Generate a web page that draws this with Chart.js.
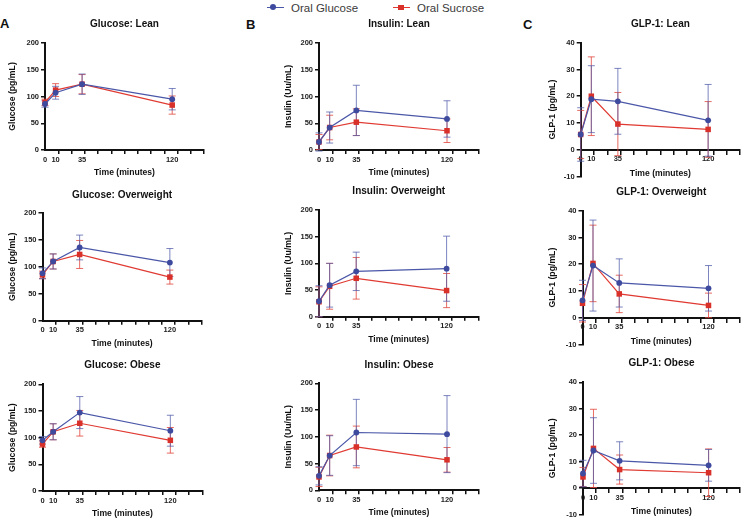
<!DOCTYPE html>
<html><head><meta charset="utf-8">
<script src="https://cdn.jsdelivr.net/npm/chart.js@4"></script>
<style>
html,body{margin:0;padding:0;background:#fff;}
#wrap{position:relative;width:744px;height:521px;overflow:hidden;font-family:"Liberation Sans",Arial,sans-serif;}
canvas{position:absolute;}
.lt{position:absolute;font-weight:bold;font-size:13px;color:#111;line-height:13px;}
.lg{position:absolute;font-size:11.5px;color:#3a3a3a;line-height:14px;white-space:nowrap;}
.ln{position:absolute;height:1.5px;}
</style></head>
<body><div id="wrap">
<div class="lt" style="left:0px;top:17px">A</div>
<div class="lt" style="left:246px;top:18px">B</div>
<div class="lt" style="left:523px;top:18px">C</div>
<div class="ln" style="left:267px;top:6.5px;width:16.5px;background:#4a57a8"></div>
<div style="position:absolute;left:270.3px;top:4.3px;width:6px;height:6px;border-radius:50%;background:#3d4a9e"></div>
<div class="lg" style="left:291px;top:0.5px">Oral Glucose</div>
<div class="ln" style="left:393px;top:6.5px;width:17px;background:#e03a32"></div>
<div style="position:absolute;left:398.2px;top:4.5px;width:5.6px;height:5.6px;background:#d9302a"></div>
<div class="lg" style="left:417px;top:0.5px">Oral Sucrose</div>
</div>
<script>
// ---- data ----
const times = [0, 10, 35, 120];
const xTickValues = [0, 10, 12.5, 25, 35, 37.5, 50, 62.5, 75, 87.5, 100, 112.5, 120, 125, 137.5, 150];
const xLabelValues = [0, 10, 35, 120];
const seriesNames = ['Oral Glucose', 'Oral Sucrose'];

const glucoseLeanOG = [86, 107, 123, 95];
const glucoseLeanOGsd = [6, 12, 19, 20];
const glucoseLeanOS = [89, 112, 123, 84];
const glucoseLeanOSsd = [6, 12, 18, 17];
const glucoseOverOG = [88, 110, 136, 108];
const glucoseOverOGsd = [10, 14, 23, 26];
const glucoseOverOS = [85, 110, 123, 81];
const glucoseOverOSsd = [7, 14, 26, 13];
const glucoseObeseOG = [95, 111, 147, 113];
const glucoseObeseOGsd = [7, 15, 30, 29];
const glucoseObeseOS = [88, 111, 127, 95];
const glucoseObeseOSsd = [6, 15, 24, 24];

const insulinLeanOG = [15, 42, 74, 58];
const insulinLeanOGsd = [17, 29, 47, 34];
const insulinLeanOS = [15, 42, 52, 36];
const insulinLeanOSsd = [14, 23, 25, 22];
const insulinOverOG = [29, 59, 85, 90];
const insulinOverOGsd = [29, 41, 36, 61];
const insulinOverOS = [28, 57, 72, 49];
const insulinOverOSsd = [28, 43, 39, 32];
const insulinObeseOG = [27, 65, 108, 105];
const insulinObeseOGsd = [17, 37, 62, 72];
const insulinObeseOS = [25, 65, 81, 57];
const insulinObeseOSsd = [18, 38, 39, 23];

const glpLeanOG = [5.7, 18.9, 18.1, 11];
const glpLeanOGsd = [10, 12.5, 12.3, 13.4];
const glpLeanOS = [5.7, 20, 9.6, 7.6];
const glpLeanOSsd = [9, 14.7, 11.8, 10.4];
const glpOverOG = [6.5, 19.5, 13, 11];
const glpOverOGsd = [7.5, 17, 9, 8.5];
const glpOverOS = [5.4, 20.3, 8.9, 4.6];
const glpOverOSsd = [7, 14.3, 7, 4.6];
const glpObeseOG = [5.5, 14.2, 10.3, 8.6];
const glpObeseOGsd = [5, 12.4, 7.2, 6];
const glpObeseOS = [4.2, 15, 7, 5.8];
const glpObeseOSsd = [3.6, 14.8, 5.5, 9];

const glucoseTicks = {min: 0, max: 200, step: 50};
const insulinTicks = {min: 0, max: 200, step: 50};
const glpTicks = {min: -10, max: 40, step: 10};

const panelTitles = ['Glucose: Lean','Glucose: Overweight','Glucose: Obese',
  'Insulin: Lean','Insulin: Overweight','Insulin: Obese',
  'GLP-1: Lean','GLP-1: Overweight','GLP-1: Obese'];
const yTitles = ['Glucose (pg/mL)','Insulin (Uu/mL)','GLP-1 (pg/mL)'];
const xTitle = 'Time (minutes)';

// ---- layout (page coords) ----
const FONT = '"Liberation Sans", Arial, sans-serif';
const panels = [
  {t:0, yt:0, ticks:glucoseTicks, og:glucoseLeanOG, ogsd:glucoseLeanOGsd, os:glucoseLeanOS, ossd:glucoseLeanOSsd,
   cx:0, cy:0, cw:244, ch:180, L:45, T:43, R:204, B:150, ty:24},
  {t:1, yt:0, ticks:glucoseTicks, og:glucoseOverOG, ogsd:glucoseOverOGsd, os:glucoseOverOS, ossd:glucoseOverOSsd,
   cx:0, cy:175, cw:244, ch:176, L:42.5, T:213, R:201.7, B:320.7, ty:195},
  {t:2, yt:0, ticks:glucoseTicks, og:glucoseObeseOG, ogsd:glucoseObeseOGsd, os:glucoseObeseOS, ossd:glucoseObeseOSsd,
   cx:0, cy:345, cw:244, ch:176, L:42.5, T:384.3, R:202.3, B:491, ty:365.7},
  {t:3, yt:1, ticks:insulinTicks, og:insulinLeanOG, ogsd:insulinLeanOGsd, os:insulinLeanOS, ossd:insulinLeanOSsd,
   cx:276, cy:0, cw:214, ch:180, L:319, T:43, R:479, B:150, ty:24},
  {t:4, yt:1, ticks:insulinTicks, og:insulinOverOG, ogsd:insulinOverOGsd, os:insulinOverOS, ossd:insulinOverOSsd,
   cx:276, cy:175, cw:214, ch:176, L:319, T:210, R:478.5, B:316.7, ty:191.7},
  {t:5, yt:1, ticks:insulinTicks, og:insulinObeseOG, ogsd:insulinObeseOGsd, os:insulinObeseOS, ossd:insulinObeseOSsd,
   cx:276, cy:345, cw:214, ch:176, L:319, T:383.3, R:479, B:490.3, ty:365},
  {t:6, yt:2, ticks:glpTicks, og:glpLeanOG, ogsd:glpLeanOGsd, os:glpLeanOS, ossd:glpLeanOSsd, zeroAxis:true,
   cx:540, cy:0, cw:204, ch:183, L:580.7, T:42.7, R:743, B:150.7, ty:24},
  {t:7, yt:2, ticks:glpTicks, og:glpOverOG, ogsd:glpOverOGsd, os:glpOverOS, ossd:glpOverOSsd, zeroAxis:true,
   cx:540, cy:175, cw:204, ch:176, L:582.5, T:210.7, R:743, B:319, ty:192},
  {t:8, yt:2, ticks:glpTicks, og:glpObeseOG, ogsd:glpObeseOGsd, os:glpObeseOS, ossd:glpObeseOSsd, zeroAxis:true,
   cx:540, cy:345, cw:204, ch:176, L:583, T:382.3, R:743, B:489.3, ty:363.3}
];

const errorBars = {
  id: 'errorBars',
  beforeDatasetsDraw(chart) {
    const {ctx, scales: {x, y}} = chart;
    ctx.save();
    for (let i = chart.data.datasets.length - 1; i >= 0; i--) {
      const ds = chart.data.datasets[i];
      ctx.strokeStyle = ds.errColor;
      ctx.lineWidth = 1;
      ds.sd.forEach((s, j) => {
        const px = x.getPixelForValue(ds.data[j].x);
        const top = y.getPixelForValue(ds.data[j].y + s);
        const bot = y.getPixelForValue(ds.data[j].y - s);
        ctx.beginPath();
        ctx.moveTo(px, top); ctx.lineTo(px, bot);
        ctx.moveTo(px - 3.5, top); ctx.lineTo(px + 3.5, top);
        ctx.moveTo(px - 3.5, bot); ctx.lineTo(px + 3.5, bot);
        ctx.stroke();
      });
    }
    ctx.restore();
  }
};

const panelTitle = {
  id: 'panelTitle',
  afterDraw(chart, args, opts) {
    const {ctx, chartArea: ca} = chart;
    ctx.save();
    ctx.font = 'bold 10px ' + FONT;
    ctx.fillStyle = '#111';
    ctx.textAlign = 'center';
    ctx.textBaseline = 'middle';
    ctx.fillText(opts.text, (ca.left + ca.right) / 2, opts.y);
    ctx.restore();
  }
};

const wrap = document.getElementById('wrap');
panels.forEach(p => {
  const cv = document.createElement('canvas');
  cv.width = p.cw; cv.height = p.ch;
  cv.style.left = p.cx + 'px'; cv.style.top = p.cy + 'px';
  cv.style.width = p.cw + 'px'; cv.style.height = p.ch + 'px';
  wrap.appendChild(cv);
  const H = p.zeroAxis ? 31.5 : 30;
  const yW = p.L - p.cx;
  const pad = {left: 0, top: p.T - p.cy, right: p.cx + p.cw - p.R, bottom: p.cy + p.ch - p.B - H};
  const tickFont = {family: FONT, size: 7.5, weight: 'bold'};
  new Chart(cv, {
    type: 'line',
    data: {
      datasets: [
        {label: seriesNames[0], data: times.map((t, i) => ({x: t, y: p.og[i]})), sd: p.ogsd,
         borderColor: '#4a57a8', backgroundColor: '#3d4a9e', errColor: 'rgba(80,92,170,0.75)',
         borderWidth: 1.2, pointStyle: 'circle', pointRadius: 2.9, pointBorderWidth: 0, clip: false, tension: 0},
        {label: seriesNames[1], data: times.map((t, i) => ({x: t, y: p.os[i]})), sd: p.ossd,
         borderColor: '#e03a32', backgroundColor: '#d9302a', errColor: 'rgba(225,70,60,0.8)',
         borderWidth: 1.2, pointStyle: 'rect', pointRadius: 3.9, pointBorderWidth: 0, clip: false, tension: 0}
      ]
    },
    options: {
      responsive: false, animation: false, devicePixelRatio: 1,
      layout: {padding: pad},
      plugins: {legend: {display: false}, tooltip: {enabled: false}, title: {display: false},
        panelTitle: {text: panelTitles[p.t], y: p.ty - p.cy}},
      scales: {
        x: {
          type: 'linear', min: 0, max: 150,
          position: p.zeroAxis ? {y: 0} : 'bottom',
          afterBuildTicks: s => { s.ticks = xTickValues.map(v => ({value: v})); },
          afterFit: s => { s.height = H; },
          ticks: {autoSkip: false, maxRotation: 0, minRotation: 0, padding: 1, color: '#222', font: tickFont,
            callback: v => xLabelValues.includes(v) ? String(v) : ''},
          grid: {drawOnChartArea: false, drawTicks: true, tickLength: 4, lineWidth: 1.5,
            tickColor: c => (c.tick && !xLabelValues.includes(c.tick.value)) ? '#111' : 'rgba(0,0,0,0)'},
          border: {display: true, color: '#111', width: 2},
          title: {display: true, text: xTitle, color: '#111', font: {family: FONT, size: 8.6, weight: 'bold'},
            padding: {top: 4.6, bottom: 2.4}}
        },
        y: {
          type: 'linear', min: p.ticks.min, max: p.ticks.max,
          afterFit: s => { s.width = yW; },
          ticks: {stepSize: p.ticks.step, padding: 2, color: '#222', font: tickFont},
          grid: {drawOnChartArea: false, drawTicks: true, tickLength: 4, lineWidth: 1.5, color: '#111', tickColor: '#111'},
          border: {display: true, color: '#111', width: 2},
          title: {display: true, text: yTitles[p.yt], color: '#111', font: {family: FONT, size: 8.7, weight: 'bold'},
            padding: {top: 7.4, bottom: 0}}
        }
      }
    },
    plugins: [errorBars, panelTitle]
  });
});
</script>
</body></html>
